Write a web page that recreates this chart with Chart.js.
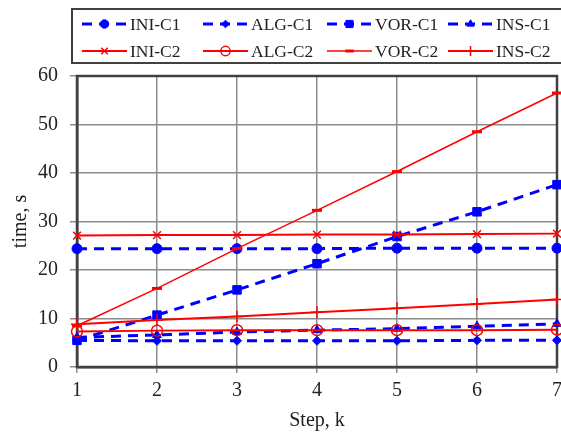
<!DOCTYPE html>
<html>
<head>
<meta charset="utf-8">
<script src="https://cdn.jsdelivr.net/npm/chart.js@4/dist/chart.umd.min.js"></script>
<style>
  html, body { margin: 0; padding: 0; background: #fff; }
  #wrap { width: 561px; height: 435px; }
</style>
</head>
<body>
<div id="wrap"><canvas id="timeChart" width="561" height="435"></canvas></div>
<script>
const steps = ['1', '2', '3', '4', '5', '6', '7'];
const yTicks = [0, 10, 20, 30, 40, 50, 60];

const iniC1 = [24.4, 24.4, 24.4, 24.4, 24.5, 24.5, 24.5];
const algC1 = [5.5, 5.4, 5.4, 5.4, 5.4, 5.5, 5.5];
const vorC1 = [5.5, 10.7, 15.9, 21.3, 26.9, 32.0, 37.6];
const insC1 = [6.1, 6.6, 7.2, 7.6, 7.9, 8.4, 8.9];

const iniC2 = [27.1, 27.2, 27.2, 27.3, 27.3, 27.4, 27.5];
const algC2 = [7.3, 7.5, 7.6, 7.6, 7.6, 7.6, 7.7];
const vorC2 = [8.5, 16.2, 24.4, 32.3, 40.3, 48.5, 56.5];
const insC2 = [8.8, 9.7, 10.4, 11.3, 12.1, 13.0, 13.9];

const BLUE = '#0000ff';
const RED = '#ff0000';
const FONT = "'Liberation Serif', 'Times New Roman', serif";

function blue(label, data, style, radius) {
    return {
        label: label, data: data, order: 1,
        borderColor: BLUE, backgroundColor: BLUE,
        borderWidth: 3, borderDash: [10, 7],
        pointStyle: style, pointRadius: radius,
        pointBorderWidth: 1, pointBackgroundColor: BLUE, pointBorderColor: BLUE
    };
}
function red(label, data, style, radius, lw, fill) {
    return {
        label: label, data: data, order: 0,
        borderColor: RED, backgroundColor: RED,
        borderWidth: lw,
        pointStyle: style, pointRadius: radius,
        pointBorderWidth: style === 'line' ? 3 : 1.5,
        pointBackgroundColor: fill, pointBorderColor: RED
    };
}

const datasets = [
    blue('INI-C1', iniC1, 'circle', 5),
    blue('ALG-C1', algC1, 'rectRot', 4.5),
    blue('VOR-C1', vorC1, 'rect', 6),
    blue('INS-C1', insC1, 'triangle', 5),
    red('INI-C2', iniC2, 'crossRot', 5.5, 2, RED),
    red('ALG-C2', algC2, 'circle', 5.5, 2, 'rgba(0,0,0,0)'),
    red('VOR-C2', vorC2, 'line', 5, 1.5, RED),
    red('INS-C2', insC2, 'cross', 6, 2, RED)
];

// legend box in two rows, drawn straight on the canvas
const legendBox = {
    id: 'legendBox',
    afterDraw(chart) {
        const ctx = chart.ctx;
        ctx.save();
        ctx.strokeStyle = '#404040';
        ctx.lineWidth = 2;
        ctx.strokeRect(72, 9, 500, 54);
        const cols = [82, 203, 327, 448];
        const rows = [24, 51];
        ctx.font = '17.5px ' + FONT;
        ctx.textBaseline = 'middle';
        ctx.fillStyle = '#222';
        chart.data.datasets.forEach(function (ds, i) {
            const x = cols[i % 4], y = rows[Math.floor(i / 4)];
            ctx.save();
            ctx.strokeStyle = ds.borderColor;
            ctx.lineWidth = ds.borderWidth;
            ctx.setLineDash(ds.borderDash || []);
            ctx.beginPath();
            ctx.moveTo(x, y);
            ctx.lineTo(x + 45, y);
            ctx.stroke();
            ctx.setLineDash([]);
            ctx.fillStyle = ds.pointBackgroundColor;
            ctx.strokeStyle = ds.pointBorderColor;
            ctx.lineWidth = ds.pointBorderWidth;
            Chart.helpers.drawPoint(ctx, { pointStyle: ds.pointStyle, radius: ds.pointRadius * 0.85, rotation: 0, borderWidth: ds.pointBorderWidth }, x + 22.5, y);
            ctx.restore();
            ctx.fillText(ds.label, x + 48, y + 1);
        });
        ctx.restore();
    }
};

// full frame round the plot area
const frame = {
    id: 'frame',
    beforeDatasetsDraw(chart) {
        const a = chart.chartArea, ctx = chart.ctx;
        ctx.save();
        ctx.strokeStyle = '#404040';
        ctx.lineWidth = 2.5;
        ctx.strokeRect(a.left, a.top, a.right - a.left, a.bottom - a.top);
        ctx.restore();
    }
};

const ctx = document.getElementById('timeChart').getContext('2d');
const chart = new Chart(ctx, {
    type: 'line',
    data: { labels: steps, datasets: datasets },
    options: {
        responsive: false,
        animation: false,
        layout: { autoPadding: false, padding: { top: 76, right: 4, left: 0, bottom: 0 } },
        plugins: { legend: { display: false }, tooltip: { enabled: false } },
        elements: { line: { tension: 0 } },
        scales: {
            x: {
                offset: false,
                grid: { color: '#8c8c8c', lineWidth: 1.5, tickLength: 6 },
                border: { color: '#404040', width: 2.5 },
                ticks: { color: '#222', font: { family: FONT, size: 20 }, padding: 6, maxRotation: 0 },
                title: { display: true, text: 'Step, k', color: '#222', font: { family: FONT, size: 20 }, padding: { top: 0, bottom: 2 } },
                afterFit(scale) {
                    scale.height = 68;
                    scale.paddingLeft = 0;
                    scale.paddingRight = 0;
                }
            },
            y: {
                min: 0, max: 60,
                afterBuildTicks(scale) { scale.ticks = yTicks.map(v => ({ value: v })); },
                grid: { color: '#8c8c8c', lineWidth: 1.5, tickLength: 7 },
                border: { color: '#404040', width: 2.5 },
                ticks: { color: '#222', font: { family: FONT, size: 20 }, padding: 12 },
                title: { display: true, text: 'time, s', color: '#222', font: { family: FONT, size: 20 }, padding: { top: 9, bottom: 0 } },
                afterFit(scale) {
                    scale.width = 77;
                    scale.paddingTop = 0;
                    scale.paddingBottom = 0;
                }
            }
        }
    },
    plugins: [frame, legendBox]
});
</script>
</body>
</html>
